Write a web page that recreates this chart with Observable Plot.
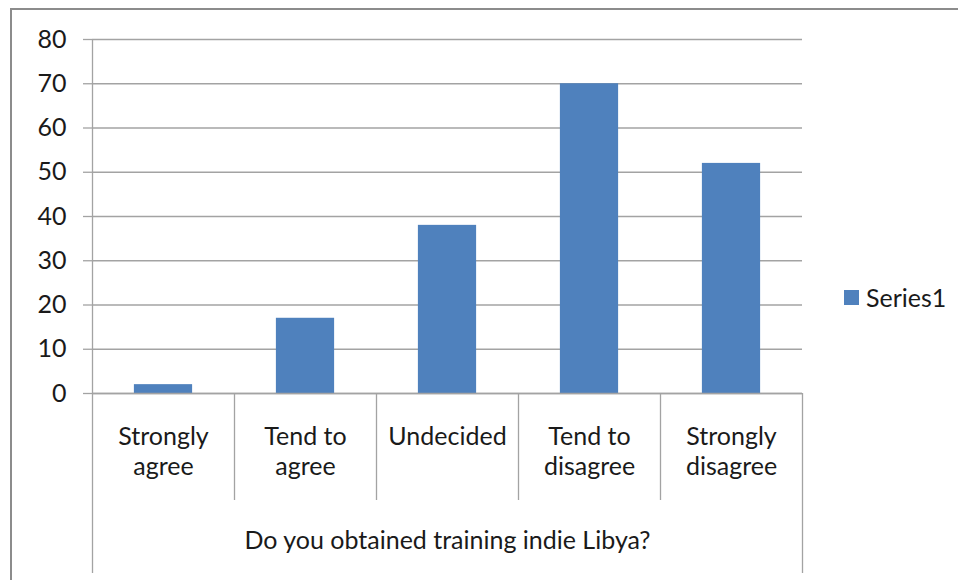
<!DOCTYPE html>
<html><head><meta charset="utf-8">
<script src="https://cdn.jsdelivr.net/npm/d3@7"></script>
<script src="https://cdn.jsdelivr.net/npm/@observablehq/plot@0.6"></script>
<style>
html,body{margin:0;padding:0;background:#fff;overflow:hidden;}
#wrap{position:relative;width:958px;height:580px;overflow:hidden;font-family:Lato,sans-serif;}
#frame{position:absolute;left:10px;top:8px;width:1000px;height:700px;border:2px solid #8c8c8c;box-sizing:border-box;}
#legend{position:absolute;left:844px;top:282px;display:flex;align-items:center;font-size:25px;color:#1a1a1a;}
#legend .sw{width:15px;height:15px;background:#4f81bd;margin-right:7px;display:inline-block;}
#chart{position:absolute;left:0;top:0;}
</style></head><body>
<div id="wrap"><div id="frame"></div><div id="chart"></div><div id="legend"><span class="sw"></span><span id="legtext"></span></div></div>
<script>
const categories = ["Strongly\nagree","Tend to\nagree","Undecided","Tend to\ndisagree","Strongly\ndisagree"];
const values = [2, 17, 38, 70, 52];
const yTicks = [0, 10, 20, 30, 40, 50, 60, 70, 80];
const seriesName = "Series1";
const axisTitle = "Do you obtained training indie Libya?";

const data = categories.map((c, i) => ({i, label: c, value: values[i]}));
const barFrac = 0.41;
const gray = "#a3a3a3";
const ink = "#1a1a1a";
const fs = 25;
const n = categories.length;

const chart = Plot.plot({
  width: 958, height: 580,
  marginLeft: 92, marginRight: 156, marginTop: 39, marginBottom: 187,
  style: {fontFamily: "Lato, sans-serif", fontSize: fs + "px", color: ink, background: "transparent"},
  x: {type: "linear", domain: [0, n], axis: null},
  y: {domain: [0, 80], axis: null},
  marks: [
    Plot.gridY(yTicks, {stroke: gray, strokeOpacity: 1, strokeWidth: 1.3}),
    Plot.axisY(yTicks, {tickSize: 9, tickPadding: 17, stroke: gray, strokeOpacity: 1, strokeWidth: 1.3, fill: ink, fontSize: fs, label: null, tickFormat: d => String(d)}),
    Plot.rectY(data, {x1: d => d.i + (1 - barFrac) / 2, x2: d => d.i + (1 + barFrac) / 2, y: "value", fill: "#4f81bd"}),
    Plot.ruleX([0], {stroke: gray, strokeWidth: 1.3}),
    Plot.ruleY([0], {stroke: gray, strokeWidth: 1.3}),
    Plot.axisX(d3.range(1, n), {tickSize: 107, stroke: gray, strokeOpacity: 1, strokeWidth: 1.3, tickFormat: () => "", label: null}),
    Plot.axisX([0, n], {tickSize: 180, stroke: gray, strokeOpacity: 1, strokeWidth: 1.3, tickFormat: () => "", label: null}),
    Plot.text(data, {x: d => d.i + 0.5, text: "label", frameAnchor: "bottom", lineAnchor: "top", dy: 30, lineHeight: 1.2, fontSize: fs, fill: ink}),
    Plot.text([axisTitle], {text: d => d, frameAnchor: "bottom", lineAnchor: "middle", dy: 147, fontSize: fs, fill: ink})
  ]
});
document.getElementById("chart").appendChild(chart);
document.getElementById("legtext").textContent = seriesName;
</script>
</body></html>
